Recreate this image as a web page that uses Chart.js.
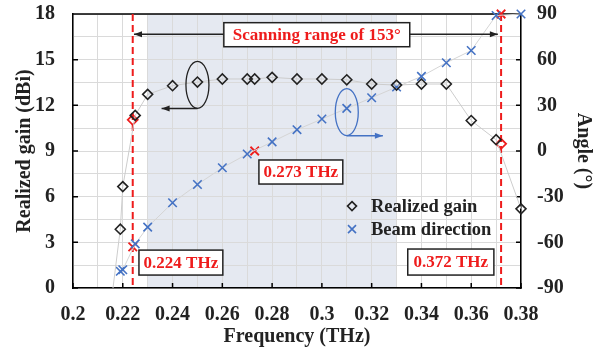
<!DOCTYPE html>
<html>
<head>
<meta charset="utf-8">
<script src="https://cdn.jsdelivr.net/npm/chart.js@4.4.0/dist/chart.umd.min.js"></script>
<style>
  body { margin: 0; background: #fff; }
</style>
</head>
<body>
<canvas id="grafico" width="606" height="354"></canvas>
<script>
// realized gain (dBi) against frequency (THz)
const gainFreq = [0.21, 0.219, 0.22, 0.225, 0.23, 0.24, 0.25, 0.26, 0.27, 0.273, 0.28, 0.29, 0.30, 0.31, 0.32, 0.33, 0.34, 0.35, 0.36, 0.37, 0.38];
const gainValues = [-8, 3.86, 6.66, 11.34, 12.72, 13.29, 13.53, 13.73, 13.73, 13.73, 13.84, 13.73, 13.73, 13.68, 13.4, 13.33, 13.4, 13.4, 11.0, 9.74, 5.2];

// beam direction (deg) against frequency
const beamFreq = [0.219, 0.22, 0.225, 0.23, 0.24, 0.25, 0.26, 0.27, 0.28, 0.29, 0.30, 0.31, 0.32, 0.33, 0.34, 0.35, 0.36, 0.37, 0.38];
const beamAngle = [-79, -78, -61, -50, -34, -22, -11, -2, 6, 14, 21, 28, 35, 42, 49, 58, 66, 89, 90];

// highlighted frequencies
const markedFreq = [0.224, 0.273, 0.372];
const markedGain = [11.05, null, 9.47];
const markedAngle = [-63, 0, 90];

const xTicks = [0.2, 0.22, 0.24, 0.26, 0.28, 0.3, 0.32, 0.34, 0.36, 0.38];
const gainTicks = [0, 3, 6, 9, 12, 15, 18];
const angleTicks = [-90, -60, -30, 0, 30, 60, 90];
const bandStart = 0.23;
const bandEnd = 0.33;

const serif = "'Liberation Serif', 'Times New Roman', serif";
const red = '#ee1c1c';
const blue = '#4472c4';

const toPoints = (xs, ys) => xs.map((x, i) => ({ x, y: ys[i] }));

function arrow(ctx, x1, y1, x2, y2, color) {
  const ang = Math.atan2(y2 - y1, x2 - x1);
  ctx.save();
  ctx.strokeStyle = color;
  ctx.fillStyle = color;
  ctx.lineWidth = 1.5;
  ctx.beginPath();
  ctx.moveTo(x1, y1);
  ctx.lineTo(x2, y2);
  ctx.stroke();
  ctx.beginPath();
  ctx.moveTo(x2, y2);
  ctx.lineTo(x2 - 8 * Math.cos(ang) + 3 * Math.sin(ang), y2 - 8 * Math.sin(ang) - 3 * Math.cos(ang));
  ctx.lineTo(x2 - 8 * Math.cos(ang) - 3 * Math.sin(ang), y2 - 8 * Math.sin(ang) + 3 * Math.cos(ang));
  ctx.closePath();
  ctx.fill();
  ctx.restore();
}

function labelBox(ctx, x1, y1, x2, y2, text) {
  ctx.save();
  ctx.fillStyle = '#fff';
  ctx.fillRect(x1, y1, x2 - x1, y2 - y1);
  ctx.strokeStyle = '#222';
  ctx.lineWidth = 1.5;
  ctx.strokeRect(x1, y1, x2 - x1, y2 - y1);
  ctx.fillStyle = red;
  ctx.font = 'bold 17px ' + serif;
  ctx.textAlign = 'center';
  ctx.textBaseline = 'middle';
  ctx.fillText(text, (x1 + x2) / 2, (y1 + y2) / 2 + 1);
  ctx.restore();
}

function diamond(ctx, x, y, r, color) {
  ctx.save();
  ctx.strokeStyle = color;
  ctx.lineWidth = 1.6;
  ctx.beginPath();
  ctx.moveTo(x, y - r);
  ctx.lineTo(x + r, y);
  ctx.lineTo(x, y + r);
  ctx.lineTo(x - r, y);
  ctx.closePath();
  ctx.stroke();
  ctx.restore();
}

function cross(ctx, x, y, r, color) {
  ctx.save();
  ctx.strokeStyle = color;
  ctx.lineWidth = 1.6;
  ctx.beginPath();
  ctx.moveTo(x - r, y - r);
  ctx.lineTo(x + r, y + r);
  ctx.moveTo(x + r, y - r);
  ctx.lineTo(x - r, y + r);
  ctx.stroke();
  ctx.restore();
}

const extras = {
  id: 'extras',
  beforeDraw(chart) {
    const { ctx, chartArea: a, scales: { x } } = chart;
    ctx.save();
    ctx.fillStyle = '#e5e9f1';
    const x1 = x.getPixelForValue(bandStart);
    const x2 = x.getPixelForValue(bandEnd);
    ctx.fillRect(x1, a.top, x2 - x1, a.bottom - a.top);
    ctx.restore();
  },
  beforeDatasetsDraw(chart) {
    const { ctx, chartArea: a, scales: { x, y, y1 } } = chart;
    ctx.save();
    ctx.strokeStyle = '#000';
    ctx.lineWidth = 1.5;
    ctx.beginPath();
    ctx.moveTo(a.left, a.top);
    ctx.lineTo(a.right, a.top);
    // inward tick marks
    xTicks.forEach(v => {
      const px = x.getPixelForValue(v);
      ctx.moveTo(px, a.bottom);
      ctx.lineTo(px, a.bottom - 5);
    });
    gainTicks.forEach(v => {
      const py = y.getPixelForValue(v);
      ctx.moveTo(a.left, py);
      ctx.lineTo(a.left + 5, py);
    });
    angleTicks.forEach(v => {
      const py = y1.getPixelForValue(v);
      ctx.moveTo(a.right, py);
      ctx.lineTo(a.right - 5, py);
    });
    ctx.stroke();

    // dashed markers at the scan limits
    ctx.strokeStyle = red;
    ctx.lineWidth = 2;
    ctx.setLineDash([7, 4]);
    [markedFreq[0], markedFreq[2]].forEach(f => {
      const px = x.getPixelForValue(f);
      ctx.beginPath();
      ctx.moveTo(px, a.top);
      ctx.lineTo(px, a.bottom);
      ctx.stroke();
    });
    ctx.restore();
  },
  afterDraw(chart) {
    const { ctx, scales: { x, y, y1 } } = chart;
    const px = v => x.getPixelForValue(v);
    const py = v => y.getPixelForValue(v);
    const pa = v => y1.getPixelForValue(v);

    // scanning range arrows and box
    const range = markedAngle[2] - markedAngle[0];
    arrow(ctx, px(0.2606), py(16.67), px(0.2245), py(16.67), '#222');
    arrow(ctx, px(0.3353), py(16.67), px(0.3707), py(16.67), '#222');
    labelBox(ctx, px(0.2606), py(17.43), px(0.3353), py(15.85), 'Scanning range of ' + range + '°');

    labelBox(ctx, px(0.2747), py(8.41), px(0.3084), py(6.83), markedFreq[1] + ' THz');
    labelBox(ctx, px(0.2265), py(2.49), px(0.2602), py(0.85), markedFreq[0] + ' THz');
    labelBox(ctx, px(0.3345), py(2.56), px(0.3691), py(0.85), markedFreq[2] + ' THz');

    // ellipse around the gain curve, pointing to its axis
    ctx.save();
    ctx.lineWidth = 1.3;
    ctx.strokeStyle = '#222';
    ctx.beginPath();
    ctx.ellipse(px(0.25), py(13.34), 11.5, 23.5, 0, 0, Math.PI * 2);
    ctx.stroke();
    ctx.strokeStyle = blue;
    ctx.beginPath();
    ctx.ellipse(px(0.31), pa(25.5), 11.5, 23.5, 0, 0, Math.PI * 2);
    ctx.stroke();
    ctx.restore();
    arrow(ctx, px(0.25), py(13.34) + 23.5, px(0.2356), py(13.34) + 23.5, '#222');
    arrow(ctx, px(0.31), pa(25.5) + 23.5, px(0.3245), pa(25.5) + 23.5, blue);

    // legend
    const lx = px(0.3121);
    const ly1 = py(5.38);
    const ly2 = py(3.87);
    diamond(ctx, lx, ly1, 4.5, '#222');
    cross(ctx, lx, ly2, 4, blue);
    ctx.save();
    ctx.fillStyle = '#222';
    ctx.font = 'bold 18.5px ' + serif;
    ctx.textBaseline = 'middle';
    ctx.fillText(chart.data.datasets[0].label, lx + 19, ly1 + 1);
    ctx.fillText(chart.data.datasets[1].label, lx + 19, ly2 + 1);
    ctx.restore();
  }
};

const tickFont = { family: serif, size: 20, weight: 'bold' };
const titleFont = { family: serif, size: 20, weight: 'bold' };

// fixed axis sizes so the plot box sits where it should
function fixWidth(w) {
  return scale => {
    scale.width = w;
    scale.paddingTop = 0;
    scale.paddingBottom = 0;
  };
}

new Chart(document.getElementById('grafico'), {
  type: 'scatter',
  data: {
    datasets: [
      {
        label: 'Realized gain',
        data: toPoints(gainFreq, gainValues),
        yAxisID: 'y',
        showLine: true,
        borderColor: '#cdcdcd',
        borderWidth: 1,
        pointStyle: 'rectRot',
        pointRadius: 5,
        pointBorderColor: '#222',
        pointBorderWidth: 1.6,
        pointBackgroundColor: 'rgba(0,0,0,0)',
        clip: { left: 10, top: 10, right: 10, bottom: 0 }
      },
      {
        label: 'Beam direction',
        data: toPoints(beamFreq, beamAngle),
        yAxisID: 'y1',
        showLine: true,
        borderColor: '#d5d5d5',
        borderWidth: 1,
        pointStyle: 'crossRot',
        pointRadius: 6,
        pointBorderColor: blue,
        pointBorderWidth: 1.6,
        clip: { left: 10, top: 10, right: 10, bottom: 0 }
      },
      {
        label: 'marked gain',
        data: toPoints(markedFreq, markedGain),
        yAxisID: 'y',
        pointStyle: 'rectRot',
        pointRadius: 5,
        pointBorderColor: red,
        pointBorderWidth: 1.8,
        pointBackgroundColor: 'rgba(0,0,0,0)',
        clip: false
      },
      {
        label: 'marked angle',
        data: toPoints(markedFreq, markedAngle),
        yAxisID: 'y1',
        pointStyle: 'crossRot',
        pointRadius: 6,
        pointBorderColor: red,
        pointBorderWidth: 1.8,
        clip: false
      }
    ]
  },
  options: {
    responsive: false,
    animation: false,
    layout: { padding: { top: 14, left: 0, right: 0, bottom: 0 } },
    plugins: { legend: { display: false }, tooltip: { enabled: false } },
    scales: {
      x: {
        type: 'linear',
        min: 0.2,
        max: 0.38,
        afterFit(scale) {
          scale.height = 66;
          scale.paddingLeft = 0;
          scale.paddingRight = 0;
        },
        grid: { color: '#dadada', lineWidth: 1, drawTicks: false },
        border: { color: '#000', width: 1.5 },
        ticks: {
          stepSize: 0.01,
          autoSkip: false,
          maxRotation: 0,
          padding: 15,
          color: '#222',
          font: tickFont,
          callback: v => Math.round(v * 100) % 2 === 0 ? String(+v.toFixed(2)) : ''
        },
        title: { display: true, text: 'Frequency (THz)', color: '#222', font: titleFont, padding: { top: 0, bottom: 5 } }
      },
      y: {
        position: 'left',
        min: 0,
        max: 18,
        afterFit: fixWidth(73),
        grid: { color: '#dadada', lineWidth: 1, drawTicks: false },
        border: { color: '#000', width: 1.5 },
        ticks: {
          stepSize: 1.5,
          autoSkip: false,
          padding: 18,
          color: '#222',
          font: tickFont,
          callback: v => v % 3 === 0 ? v : ''
        },
        title: { display: true, text: 'Realized gain (dBi)', color: '#222', font: titleFont, padding: { top: 13, bottom: 0 } }
      },
      y1: {
        position: 'right',
        min: -90,
        max: 90,
        afterFit: fixWidth(85),
        grid: { display: false, drawTicks: false },
        border: { color: '#000', width: 1.5 },
        ticks: { stepSize: 30, padding: 16, color: '#222', font: tickFont },
        title: { display: true, text: 'Angle (°)', color: '#222', font: titleFont, padding: { top: 11, bottom: 0 } }
      }
    }
  },
  plugins: [extras]
});
</script>
</body>
</html>
